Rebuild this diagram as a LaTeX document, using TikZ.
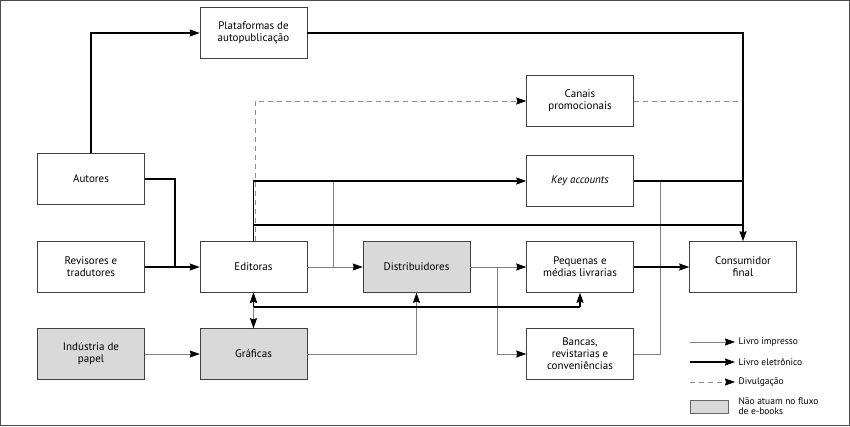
\documentclass[tikz,border=0pt]{standalone}
\usepackage{fontspec}
\setmainfont{PT Sans}
\usetikzlibrary{arrows.meta}
\begin{document}
\begin{tikzpicture}[x=1pt,y=-1pt,
  box/.style={draw=black!75,line width=0.5pt,minimum width=107pt,minimum height=51pt,align=center,font=\fontsize{11}{12}\selectfont,inner sep=1pt},
  gbox/.style={box,fill=black!15},
  tip/.style={-{Stealth[length=10pt,width=7pt,inset=1pt,color=black]}},
  btip/.style={{Stealth[length=10pt,width=7pt,inset=1pt,color=black]}-{Stealth[length=10pt,width=7pt,inset=1pt,color=black]}},
  ebook/.style={line width=1.2pt,black},
  print/.style={line width=0.6pt,black!50},
  promo/.style={line width=0.6pt,black!45,dash pattern=on 5pt off 4pt}]
\draw[black!70,line width=0.5pt] (0.5,0.5) rectangle (849.5,425.5);
\useasboundingbox (0,0) rectangle (850,426);
\node[box] (plat) at (253.5,33) {Plataformas de\\autopublicação};
\node[box] (can) at (580,101) {Canais\\promocionais};
\node[box] (aut) at (91,179) {Autores};
\node[box] (key) at (580,181) {\itshape Key accounts};
\node[box] (rev) at (91,267) {Revisores e\\tradutores};
\node[box] (edi) at (253.5,267) {Editoras};
\node[gbox] (dis) at (416.5,267) {Distribuidores};
\node[box] (peq) at (580,267) {Pequenas e\\médias livrarias};
\node[box] (con) at (743,267) {Consumidor\\final};
\node[gbox] (ind) at (91,354) {Indústria de\\papel};
\node[gbox] (gra) at (253.5,354) {Gráficas};
\node[box] (ban) at (580,354) {Bancas,\\revistarias e\\conveniências};
\coordinate (j1) at (175,267);
\coordinate (d1) at (333,267);
\coordinate (d2) at (497,267);
\coordinate (bl) at (253.5,307);
\coordinate (br) at (580,307);
% dashed
\draw[promo,tip] (255,241) -- (255,101) -- (can.west);
\draw[promo] (can.east) -- (743,101);
% print
\draw[print,tip] (edi.east) -- (dis.west);
\draw[print] (d1) -- (333,181);
\draw[print,tip] (dis.east) -- (peq.west);
\draw[print,tip] (d2) |- (ban.west);
\draw[print,tip] (gra.east) -| (dis.south);
\draw[print,tip] (ind.east) -- (gra.west);
\draw[print] (ban.east) -- (660,354) -- (660,181);
\draw[print,btip] (edi.south) -- (gra.north);
% ebook
\draw[ebook,tip] (aut.north) |- (plat.west);
\draw[ebook,tip] (plat.east) -| (con.north);
\draw[ebook] (aut.east) -| (j1);
\draw[ebook,tip] (rev.east) -- (edi.west);
\draw[ebook,tip] (edi.north) |- (key.west);
\draw[ebook] (253.5,225) -- (743,225);
\draw[ebook] (key.east) -- (743,181);
\draw[ebook,tip] (peq.east) -- (con.west);
\draw[ebook] (bl) -- (br);
\draw[ebook,tip] (br) -- (peq.south);
\draw[ebook,tip] (bl) -- (edi.south);
% legend
\node[font=\fontsize{9.5}{10}\selectfont,anchor=west] (l1) at (735,342) {Livro impresso};
\node[font=\fontsize{9.5}{10}\selectfont,anchor=west] (l2) at (735,362) {Livro eletrônico};
\node[font=\fontsize{9.5}{10}\selectfont,anchor=west] (l3) at (735,382) {Divulgação};
\node[font=\fontsize{9.5}{10}\selectfont,anchor=west,align=left] (l4) at (735,406) {Não atuam no fluxo\\de e-books};
\coordinate (s1) at (690,342); \coordinate (s2) at (690,362); \coordinate (s3) at (690,382);
\draw[print,tip] (s1) -- (l1.west);
\draw[ebook,tip] (s2) -- (l2.west);
\draw[promo,tip] (s3) -- (l3.west);
\node[draw=black!60,fill=black!15,minimum width=38pt,minimum height=13pt,inner sep=0] (lg) at (709,407) {};
\end{tikzpicture}
\end{document}
